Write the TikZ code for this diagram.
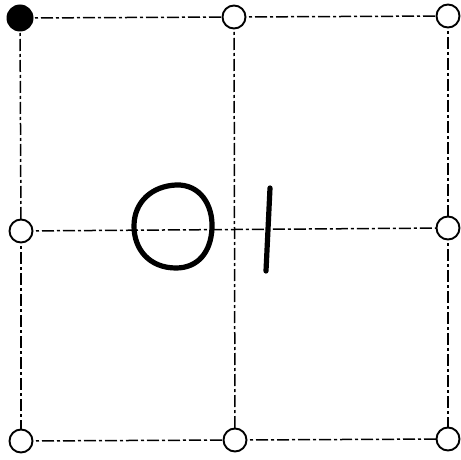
\documentclass[tikz,border=0pt]{standalone}
\begin{document}
\begin{tikzpicture}[x=1pt,y=-1pt,
  pt/.style={circle,draw,line width=1.9pt,minimum size=23pt,inner sep=0pt,fill=white},
  ptf/.style={circle,fill=black,minimum size=27pt,inner sep=0pt},
  grid/.style={line width=1.5pt,dash pattern=on 12pt off 3pt on 3pt off 3pt},
  hand/.style={line width=5.2pt,line cap=round}]
\useasboundingbox (0,0) rectangle (461,460);
\fill[white] (0,0) rectangle (461,460);
\coordinate (c00) at (20,18);
\coordinate (c01) at (234,17);
\coordinate (c02) at (448,16);
\coordinate (c10) at (21,231);
\coordinate (c12) at (448,228);
\coordinate (c20) at (21,441);
\coordinate (c21) at (235,440);
\coordinate (c22) at (448,439);
\draw[grid] (c00) -- (c01);
\draw[grid] (c01) -- (c02);
\draw[grid] (c10) -- (c12);
\draw[grid] (c20) -- (c21);
\draw[grid] (c21) -- (c22);
\draw[grid] (c00) -- (c10);
\draw[grid] (c10) -- (c20);
\draw[grid] (c02) -- (c12);
\draw[grid] (c12) -- (c22);
\draw[grid] (c01) -- (c21);
\node[ptf] (n00) at (c00) {};
\node[pt] (n01) at (c01) {};
\node[pt] (n02) at (c02) {};
\node[pt] (n10) at (c10) {};
\node[pt] (n12) at (c12) {};
\node[pt] (n20) at (c20) {};
\node[pt] (n21) at (c21) {};
\node[pt] (n22) at (c22) {};
% handwritten 0 and 1
\draw[hand] (176,185) .. controls (200,184) and (213,205) .. (212,228)
  .. controls (211,252) and (198,268) .. (176,268)
  .. controls (150,268) and (134,250) .. (134,226)
  .. controls (134,202) and (152,186) .. (176,185) -- cycle;
\draw[hand] (270,188) -- (266,271);
\end{tikzpicture}
\end{document}
